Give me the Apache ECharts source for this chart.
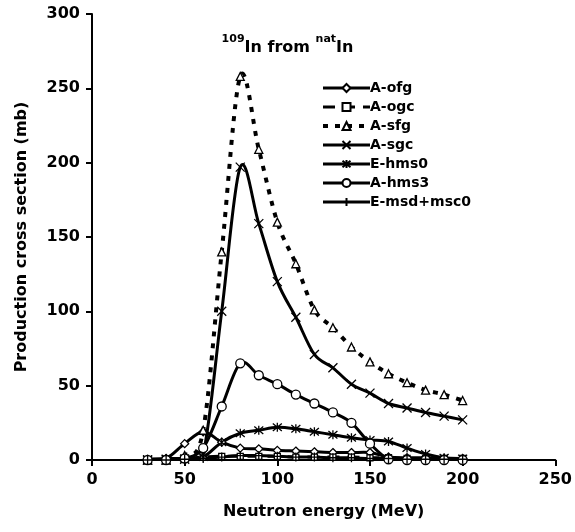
<!DOCTYPE html>
<html>
<head>
<meta charset="utf-8">
<script src="https://cdn.jsdelivr.net/npm/echarts@6/dist/echarts.min.js"></script>
<style>html,body{margin:0;padding:0;background:#fff}#c{width:575px;height:532px}</style>
</head>
<body>
<div id="c"></div>
<script>
const energy = [30,40,50,60,70,80,90,100,110,120,130,140,150,160,170,180,190,200];
const A_ofg  = [0,1,11,19,12,8,7.5,6.5,6,5.5,5,5,5,2,1.5,1.5,1,1];
const A_ogc  = [0,0.5,1,2,2.5,2.5,2.5,2.5,2,2,2,2,1.5,1.5,1,1,1,1];
const A_sfg  = [0,0,3,20,140,258,209,160,132,101,89,76,66,58,52,47,44,40];
const A_sgc  = [0,0,0.5,4,100,197,159,120,96,71,62,51,45,38,35,32,29.5,27];
const E_hms0 = [0.5,1,1,2,12,18,20,22,21,19,17,15,13.5,12.5,8,4,1.5,1];
const A_hms3 = [0,0,1,8,36,65,57,51,44,38,32,25,11,0.5,0,0,0,0];
const E_msd  = [0,0,0.5,1,2,3,3,2.5,2,2,1.5,1.5,1,1,0.5,0.5,0.5,0.5];
const seriesNames = ['A-ofg','A-ogc','A-sfg','A-sgc','E-hms0','A-hms3','E-msd+msc0'];
const xTicks = [0,50,100,150,200,250];
const yTicks = [0,50,100,150,200,250,300];

const FONT = 'DejaVu Sans';
const chart = echarts.init(document.getElementById('c'), null, {renderer:'canvas'});
const pairs = arr => energy.map((e,i)=>[e,arr[i]]);
const sym = {
  x: 'path://M0,0L10,10M10,0L0,10',
  star: 'path://M0,0L10,10M10,0L0,10M5,-1L5,11',
  plus: 'path://M5,0L5,10M4.9,5L5.1,5'
};
const styles = [
  {data:A_ofg, symbol:'diamond', size:8, dash:'solid', width:3},
  {data:A_ogc, symbol:'rect', size:6, dash:[12,8], width:3},
  {data:A_sfg, symbol:'triangle', size:8, dash:[5,7], width:4},
  {data:A_sgc, symbol:sym.x, size:9, dash:'solid', width:3},
  {data:E_hms0, symbol:sym.star, size:9, dash:'solid', width:3},
  {data:A_hms3, symbol:'circle', size:9, dash:'solid', width:3},
  {data:E_msd, symbol:sym.plus, size:9, dash:'solid', width:3}
];

// smooth curve (Catmull-Rom -> cubic Bezier) through the data points, positioned by the axes
function curveSeries(arr, st, idx){
  return {
    name:'_curve'+idx, type:'custom', coordinateSystem:'cartesian2d', z:2,
    data:[[energy[0], arr[0]]], silent:true,
    renderItem:function(params, api){
      const P = energy.map((e,i)=>api.coord([e, arr[i]]));
      const n = P.length;
      let d = 'M'+P[0][0]+','+P[0][1];
      for(let i=0;i<n-1;i++){
        const p0 = P[Math.max(i-1,0)], p1 = P[i], p2 = P[i+1], p3 = P[Math.min(i+2,n-1)];
        const c1x = p1[0]+(p2[0]-p0[0])/6, c1y = p1[1]+(p2[1]-p0[1])/6;
        const c2x = p2[0]-(p3[0]-p1[0])/6, c2y = p2[1]-(p3[1]-p1[1])/6;
        d += 'C'+c1x+','+c1y+','+c2x+','+c2y+','+p2[0]+','+p2[1];
      }
      const cs = params.coordSys;
      return {
        type:'path', shape:{pathData:d},
        clipPath:{type:'rect', shape:{x:cs.x, y:cs.y, width:cs.width, height:cs.height+1}},
        style:{fill:null, stroke:'#000', lineWidth:st.width, lineDash: st.dash==='solid'?null:st.dash, lineJoin:'round'}
      };
    }
  };
}
const series = [];
styles.forEach((st,i)=>{
  series.push(curveSeries(st.data, st, i));
});
styles.forEach((st,i)=>{
  series.push({
    name: seriesNames[i], type:'line', data: pairs(st.data), z:3,
    symbol: st.symbol, symbolSize: st.size, showAllSymbol:true,
    lineStyle:{color:'#000', width:0, opacity:0},
    itemStyle:{color:'#fff', borderColor:'#000', borderWidth:1.3},
    emphasis:{disabled:true}
  });
});
chart.setOption({
  animation:false,
  backgroundColor:'#fff',
  title:{
    text:'{s|109}{b|In from }{s|nat}{b|In}',
    left:'center', top:29,
    textStyle:{rich:{
      s:{fontFamily:FONT,fontWeight:'bold',fontSize:11,color:'#000',verticalAlign:'top',lineHeight:14},
      b:{fontFamily:FONT,fontWeight:'bold',fontSize:16,color:'#000',verticalAlign:'bottom',lineHeight:22}
    }}
  },
  legend:{
    orient:'vertical', left:316, top:75,
    itemWidth:47, itemHeight:10, itemGap:3,
    textStyle:{fontFamily:FONT,fontWeight:'bold',fontSize:14,lineHeight:16,color:'#000',padding:[0,0,0,-5]},
    data: seriesNames.map((nm,i)=>({
      name:nm,
      lineStyle:{color:'#000', width:styles[i].width, opacity:1, type:styles[i].dash}
    }))
  },
  grid:{left:92, right:17, top:14, bottom:72, containLabel:false},
  xAxis:{
    type:'value', min:xTicks[0], max:xTicks[xTicks.length-1], interval:50,
    name:'Neutron energy (MeV)', nameLocation:'middle', nameGap:44,
    nameTextStyle:{fontFamily:FONT,fontWeight:'bold',fontSize:16,color:'#000'},
    axisLine:{lineStyle:{color:'#000',width:2}},
    axisTick:{show:true,inside:false,length:6,lineStyle:{color:'#000',width:2}},
    axisLabel:{fontFamily:FONT,fontWeight:'bold',fontSize:16,color:'#000',margin:12},
    splitLine:{show:false}
  },
  yAxis:{
    type:'value', min:yTicks[0], max:yTicks[yTicks.length-1], interval:50,
    name:'Production cross section (mb)', nameLocation:'middle', nameGap:62,
    nameTextStyle:{fontFamily:FONT,fontWeight:'bold',fontSize:16,color:'#000'},
    axisLine:{show:true,lineStyle:{color:'#000',width:2}},
    axisTick:{show:true,inside:false,length:6,lineStyle:{color:'#000',width:2}},
    axisLabel:{fontFamily:FONT,fontWeight:'bold',fontSize:16,color:'#000',margin:12},
    splitLine:{show:false}
  },
  series
});
</script>
</body>
</html>
